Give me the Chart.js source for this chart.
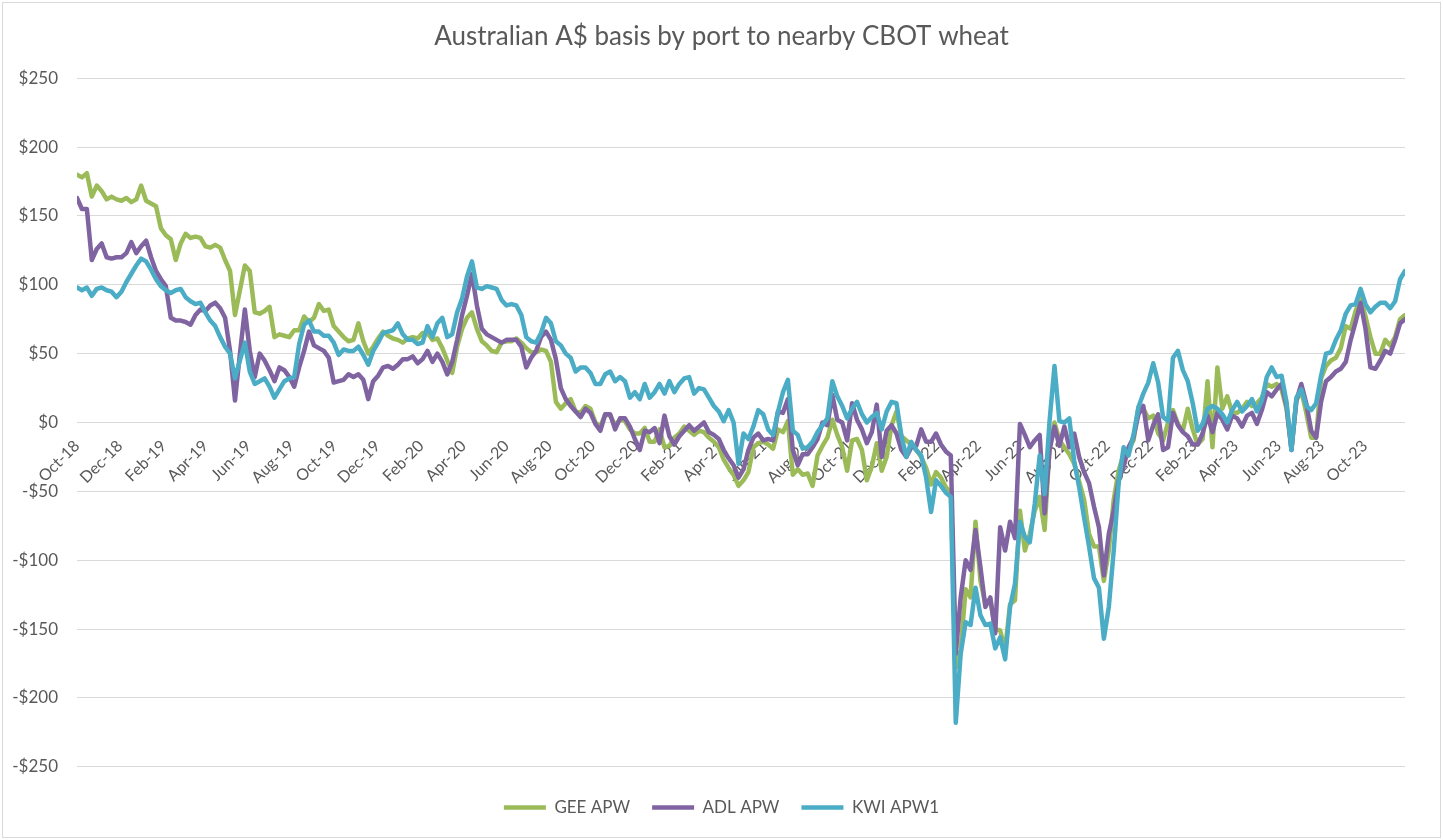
<!DOCTYPE html>
<html>
<head>
<meta charset="utf-8">
<title>Australian A$ basis by port to nearby CBOT wheat</title>
<script src="https://cdn.jsdelivr.net/npm/chart.js@4.4.1/dist/chart.umd.min.js"></script>
<style>
  html, body { margin: 0; padding: 0; background: #fff; }
  #wrap { width: 1443px; height: 840px; }
</style>
</head>
<body>
<div id="wrap"><canvas id="basisChart"></canvas></div>
<script>
// first weekly observation
const startWeek = '2018-10-01';

const tickLabels = [
  'Oct-18', 'Dec-18', 'Feb-19', 'Apr-19', 'Jun-19', 'Aug-19', 'Oct-19', 'Dec-19',
  'Feb-20', 'Apr-20', 'Jun-20', 'Aug-20', 'Oct-20', 'Dec-20', 'Feb-21', 'Apr-21',
  'Jun-21', 'Aug-21', 'Oct-21', 'Dec-21', 'Feb-22', 'Apr-22', 'Jun-22', 'Aug-22',
  'Oct-22', 'Dec-22', 'Feb-23', 'Apr-23', 'Jun-23', 'Aug-23', 'Oct-23'
];

const yTicks = [250, 200, 150, 100, 50, 0, -50, -100, -150, -200, -250];

// weekly basis, A$/t
const geeApw = [
  180, 178, 181, 164, 172, 168, 162, 164, 162, 161, 163, 160, 162, 172, 161, 159, 157, 141, 136, 133,
  118, 130, 137, 134, 135, 134, 128, 127, 129, 127, 118, 110, 78, 96, 114, 110, 80, 79, 81, 84,
  62, 64, 63, 62, 67,
  67, 77, 73, 76, 86, 81, 82, 70, 66, 62, 59, 60, 72, 59, 50, 55, 61, 66, 63, 61,
  60, 58, 61, 62, 61, 65, 65, 60, 61, 54, 45, 36, 55, 68, 76, 80, 68, 59, 56, 52,
  51, 58, 59, 59, 61, 58, 54,
  51, 51, 53, 52, 44, 15, 10, 14, 17, 8, 7, 12, 10, 0, -3, 6, 5, -2, 2, 1,
  -5, -8, -8, -4, -14, -14, -5, -18, -17, -11, -8, -3, -6, -9, -6, -7, -11, -14, -18, -27,
  -33, -38, -46, -42, -36,
  -18, -15, -14, -16, -19, -5, -7, 1, -38, -34, -38, -37, -46, -24, -17, -11, 2, -9, -18, -35,
  -13, -12, -20, -42, -32, -15, -35, -25, -2, 8, -10, -13, -16, -20, -25, -33, -45, -36, -40, -47,
  -51, -178, -165, -121,
  -127, -72, -115, -132, -129, -150, -151, -165, -132, -129, -64, -93, -81, -64, -54, -78, -18, 0, -13, -18,
  -23, -30, -43, -56, -81, -90, -90, -115, -93, -56, -35, -23, -20, -13, 11, 10, 3, 5, -8, -13,
  0, 9, -1, -6,
  10, -5, -16, -12, 30, -18, 40, 10, 19, 7, 7, 10, 15, 12, 14, 18, 28, 26, 28,
  24, 10, -19, 16, 23, 7, -11, -11, 32, 41, 45, 47, 54, 70, 68, 81, 90, 77, 62, 50,
  50, 60, 56, 62, 75, 78
];

const adlApw = [
  163, 155, 155, 118, 126, 130, 120, 119, 120, 120, 123, 131, 123, 128, 132, 120, 110, 104, 99, 76,
  74, 74, 73, 71, 78, 82, 81, 85, 87, 83, 76, 52, 16, 50, 82, 52, 33, 50, 45, 38,
  30, 40, 38, 33, 26,
  40, 52, 66, 56, 54, 52, 47, 29, 30, 31, 35, 33, 35, 31, 17, 30, 34, 40, 41, 39,
  42, 46, 46, 48, 43, 46, 52, 44, 50, 44, 35, 44, 60, 78, 92, 108, 85, 68, 64, 62,
  60, 58, 60, 60, 60, 55, 40,
  47, 52, 62, 66, 60, 46, 25, 17, 12, 8, 4, 10, 7, -1, -6, 6, 6, -5, 3, 3,
  -3, -12, -20, -6, -7, -4, -15, 5, -10, -16, -10, -6, -2, -6, -3, 0, -7, -9, -12, -20,
  -26, -31, -40, -34, -20,
  -11, -8, -13, -12, -13, 8, 7, 17, -20, -31, -23, -23, -18, -12, 0, -2, 20, 2, 0, -13,
  14, 2, -5, -15, -7, 13, -25, -6, -2, -8, -20, -25, -18, -17, -5, -14, -14, -8, -16, -21,
  -24, -168, -127, -100,
  -107, -78, -105, -134, -127, -153, -76, -93, -72, -84, -1, -9, -18, -13, -9, -66, -20, -3, -17, -3,
  -18, -8, -25, -36, -44, -61, -76, -111, -81, -64, -42, -32, -18, -11, 6, 12, -13, -2, 6, -20,
  -18, 7, -2, -7,
  -10, -16, -16, -8, 5, -7, 7, 2, -5, 5, 3, -3, 5, 7, -1, 9, 22, 19, 24,
  28, 12, -20, 16, 28, 14, -6, -11, 15, 30, 33, 37, 39, 44, 60, 73, 87, 68, 40, 39,
  45, 52, 50, 60, 72, 75
];

const kwiApw1 = [
  98, 96, 98, 92, 97, 98, 96, 95, 91, 95, 102, 108, 114, 119, 117, 111, 104, 99, 96, 94,
  96, 97, 91, 88, 86, 87, 80, 74, 70, 62, 55, 50, 32, 45, 58, 37, 28, 30, 32, 26,
  18, 24, 30, 32, 33,
  57, 71, 74, 66, 66, 63, 63, 58, 49, 53, 52, 52, 55, 49, 42, 52, 58, 65, 66, 67,
  72, 64, 60, 60, 57, 58, 70, 62, 72, 76, 62, 64, 80, 90, 106, 117, 98, 97, 99, 98,
  97, 89, 85, 86, 85, 78, 62,
  59, 58, 65, 76, 72, 59, 56, 50, 47, 37, 40, 40, 36, 28, 28, 35, 37, 30, 33, 30,
  18, 22, 17, 28, 18, 22, 28, 21, 30, 22, 28, 32, 33, 21, 25, 24, 18, 12, 8, 1,
  9, 0, -30, -8, -12,
  -3, 9, 6, -5, -9, 8, 22, 31, -6, -9, -19, -18, -14, -7, -2, 3, 30, 19, 12, 3,
  10, 15, 6, 0, 4, 7, -5, 8, 15, 14, -10, -25, -14, -20, -24, -40, -65, -42, -46, -51,
  -54, -218, -168, -145,
  -147, -120, -140, -147, -146, -164, -156, -172, -134, -117, -72, -83, -87, -59, -24, -52, 1, 41, 1, 0,
  3, -28, -47, -69, -90, -113, -120, -157, -134, -93, -44, -18, -24, -9, 11, 21, 29, 43, 29, 4,
  1, 47, 52, 38,
  30, 14, -6, -1, 10, 12, 10, 6, 0, 9, 15, 8, 12, 17, 8, 16, 33, 40, 33,
  34, 15, -20, 18, 24, 12, 9, 14, 34, 50, 51, 60, 67, 79, 85, 86, 97, 86, 80, 84,
  87, 87, 83, 88, 104, 110
];

const monthNames = ['Jan', 'Feb', 'Mar', 'Apr', 'May', 'Jun', 'Jul', 'Aug', 'Sep', 'Oct', 'Nov', 'Dec'];
const weekMs = 7 * 86400000;
const startMs = Date.parse(startWeek);

// one date per weekly value
const weeks = geeApw.map((_, i) => startMs + i * weekMs);

// where each month label sits, in weeks since the first date
const tickWeeks = tickLabels.map(lbl => {
  const [mon, yy] = lbl.split('-');
  return (Date.UTC(2000 + Number(yy), monthNames.indexOf(mon), 1) - startMs) / weekMs;
});

function toPoints(values) {
  return values.map((v, i) => ({ x: (weeks[i] - startMs) / weekMs, y: v }));
}

function dollars(v) {
  return (v < 0 ? '-$' : '$') + Math.abs(v);
}

const FONT = 'Lato, "Open Sans", "DejaVu Sans", sans-serif';
Chart.defaults.font.family = FONT;
Chart.defaults.color = '#595959';

// thin grey frame round the whole chart, like the office chart border
const chartFrame = {
  id: 'chartFrame',
  afterDraw(chart) {
    const ctx = chart.ctx;
    ctx.save();
    ctx.strokeStyle = '#d9d9d9';
    ctx.lineWidth = 1;
    ctx.strokeRect(2.5, 2.5, chart.width - 5, chart.height - 5);
    ctx.restore();
  }
};

function series(label, values, color, order) {
  return {
    label: label,
    data: toPoints(values),
    borderColor: color,
    backgroundColor: color,
    borderWidth: 4.5,
    borderJoinStyle: 'round',
    borderCapStyle: 'round',
    pointRadius: 0,
    pointHoverRadius: 0,
    tension: 0,
    fill: false,
    order: order
  };
}

const chart = new Chart(document.getElementById('basisChart'), {
  type: 'line',
  data: {
    datasets: [
      series('GEE APW', geeApw, '#9bbb59', 3),
      series('ADL APW', adlApw, '#8064a2', 2),
      series('KWI APW1', kwiApw1, '#4bacc6', 1)
    ]
  },
  plugins: [chartFrame],
  options: {
    responsive: true,
    maintainAspectRatio: false,
    animation: false,
    events: [],
    layout: { padding: { left: 0, right: 0, top: 0, bottom: 14 } },
    plugins: {
      title: {
        display: true,
        text: 'Australian A$ basis by port to nearby CBOT wheat',
        color: '#595959',
        font: { family: FONT, size: 26, weight: 'normal' },
        padding: { top: 21, bottom: 26 }
      },
      legend: {
        position: 'bottom',
        title: { display: true, text: '', font: { size: 1 }, padding: { top: 9, bottom: 0 } },
        labels: {
          usePointStyle: true,
          pointStyle: 'line',
          pointStyleWidth: 42,
          padding: 22,
          color: '#595959',
          font: { family: FONT, size: 17 },
          sort: (a, b) => a.datasetIndex - b.datasetIndex
        }
      },
      tooltip: { enabled: false }
    },
    scales: {
      x: {
        type: 'linear',
        min: 0,
        max: geeApw.length - 1,
        position: { y: 0 },
        grid: { display: false },
        border: { display: false },
        afterBuildTicks: scale => {
          scale.ticks = tickWeeks.map(v => ({ value: v }));
        },
        ticks: {
          autoSkip: false,
          minRotation: 45,
          maxRotation: 45,
          padding: 6,
          color: '#595959',
          font: { family: FONT, size: 16 },
          callback: (v, i) => tickLabels[i]
        }
      },
      y: {
        min: -250,
        max: 250,
        afterBuildTicks: scale => {
          scale.ticks = yTicks.map(v => ({ value: v }));
        },
        afterFit: scale => { scale.width = 77; },
        grid: { color: '#d9d9d9', lineWidth: 1, drawTicks: false },
        border: { display: false },
        ticks: {
          padding: 19,
          color: '#595959',
          font: { family: FONT, size: 17 },
          callback: v => dollars(v)
        }
      },
      // empty right-hand axis only keeps the plot off the right edge
      yRight: {
        position: 'right',
        grid: { display: false },
        border: { display: false },
        ticks: { display: false },
        afterFit: scale => { scale.width = 38; }
      }
    }
  }
});
</script>
</body>
</html>
